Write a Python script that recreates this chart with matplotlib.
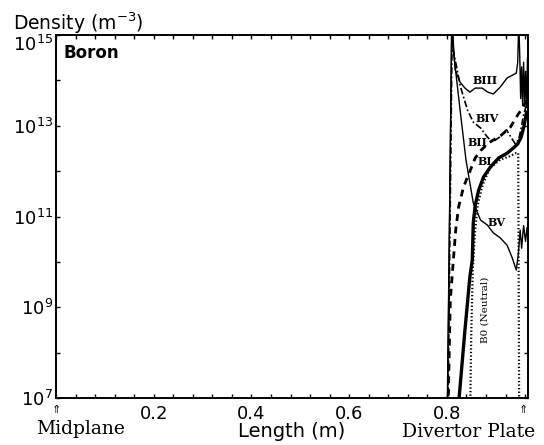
import matplotlib
matplotlib.use('Agg')
import matplotlib.pyplot as plt
from matplotlib.ticker import MultipleLocator, FixedLocator, NullFormatter
import matplotlib.transforms as mtransforms
import numpy as np

# ── Global style ──
plt.rcParams.update({
    'font.family':      'DejaVu Sans',
    'xtick.direction':  'in',
    'ytick.direction':  'in',
    'xtick.top':        True,
    'ytick.right':      True,
    'axes.linewidth':   1.4,
})

# ── Data: boron charge-state densities along the field line ──
# (x in m, densities given as log10 of m^-3)
b3_x = [0.801, 0.810, 0.817, 0.827, 0.837, 0.847, 0.858, 0.872, 0.884, 0.895, 0.909,
        0.923, 0.935, 0.942, 0.945, 0.947, 0.949, 0.951, 0.953, 0.955, 0.957, 0.959,
        0.961, 0.963, 0.965]
b3_log = [6.5, 15.3, 14.23, 13.96, 13.83, 13.74, 13.83, 13.83, 13.74, 13.70, 13.85,
          14.05, 14.12, 14.16, 14.4, 15.3, 14.6, 13.6, 14.3, 13.45, 14.4, 13.5,
          14.2, 13.4, 14.5]

b4_x = [0.802, 0.811, 0.813, 0.828, 0.842, 0.854, 0.869, 0.883, 0.893, 0.908, 0.922,
        0.931, 0.940, 0.947, 0.952, 0.957, 0.963]
b4_log = [6.5, 15.3, 14.67, 13.85, 13.35, 13.08, 12.95, 12.75, 12.64, 12.75, 12.91,
          12.75, 12.60, 12.70, 12.95, 13.24, 13.46]

b2_x = [0.802, 0.807, 0.818, 0.824, 0.834, 0.848, 0.858, 0.869, 0.885, 0.910, 0.930,
        0.945, 0.955, 0.963]
b2_log = [6.5, 9.16, 10.70, 11.21, 11.65, 12.02, 12.29, 12.45, 12.62, 12.78, 12.97,
          13.24, 13.39, 13.57]

b1_x = [0.824, 0.825, 0.837, 0.847, 0.852, 0.854, 0.858, 0.865, 0.875, 0.889, 0.906,
        0.924, 0.936, 0.945, 0.952, 0.958, 0.963]
b1_log = [6.5, 7.0, 8.5, 9.67, 10.04, 10.86, 11.25, 11.58, 11.87, 12.09, 12.29,
          12.40, 12.51, 12.60, 12.75, 13.0, 13.3]

b5_x = [0.8005, 0.810, 0.813, 0.827, 0.839, 0.854, 0.869, 0.883, 0.895, 0.909, 0.923,
        0.933, 0.942, 0.946, 0.950, 0.953, 0.957, 0.961, 0.964]
b5_log = [6.5, 15.3, 14.67, 13.35, 12.25, 11.30, 10.92, 10.81, 10.64, 10.53, 10.37,
          10.11, 9.82, 10.15, 10.70, 10.30, 10.80, 10.45, 10.75]

b0_x = [0.846, 0.848, 0.850, 0.853, 0.857, 0.863, 0.873, 0.888, 0.909, 0.929, 0.942,
        0.946, 0.948]
b0_log = [6.5, 7.0, 8.5, 9.82, 10.59, 11.25, 11.69, 12.07, 12.25, 12.33, 12.40,
          12.40, 6.5]

xtick_vals = [0.2, 0.4, 0.6, 0.8]
x_max = 0.966
plate_x = 0.957

# ════════════════════════════════════════════════════════════
fig = plt.figure(figsize=(5.44, 4.45), dpi=100)
fig.patch.set_facecolor('white')
ax = fig.add_axes([56/544, 1 - 398/445, 472/544, 363/445])

k = 'black'
ax.plot(b3_x, np.power(10.0, b3_log), color=k, lw=1.0, zorder=3)
ax.plot(b4_x, np.power(10.0, b4_log), color=k, lw=1.2, ls=(0, (4, 1.5, 1, 1.5)), zorder=3)
ax.plot(b2_x, np.power(10.0, b2_log), color=k, lw=2.0, ls=(0, (2.5, 2)), zorder=3)
ax.plot(b1_x, np.power(10.0, b1_log), color=k, lw=2.4, zorder=3)
ax.plot(b5_x, np.power(10.0, b5_log), color=k, lw=1.0, zorder=3)
ax.plot(b0_x, np.power(10.0, b0_log), color=k, lw=1.6, ls=(0, (0.6, 1.0)), zorder=3)

ax.set_yscale('log')
ax.set_xlim(0, x_max)
ax.set_ylim(1e7, 1e15)

# y ticks: labels every two decades, marks every decade
ax.yaxis.set_major_locator(FixedLocator([1e7, 1e9, 1e11, 1e13, 1e15]))
ax.yaxis.set_minor_locator(FixedLocator([1e8, 1e10, 1e12, 1e14]))
ax.yaxis.set_minor_formatter(NullFormatter())
ax.xaxis.set_major_locator(FixedLocator(xtick_vals))
ax.xaxis.set_minor_locator(MultipleLocator(0.04))
ax.tick_params(which='both', length=3, width=1)
ax.tick_params(axis='y', labelsize=13, pad=2)
ax.tick_params(axis='x', labelsize=13, pad=5)
# top label sits below the corner, as in the original
ax.yaxis.get_major_ticks()[-1].label1.set_verticalalignment('top')

# ── Text ──
fig.text(13/544, 1 - 30/445, 'Density (m$^{-3}$)', fontsize=13.5, va='baseline')
ax.text(0.015, 0.975, 'Boron', transform=ax.transAxes, fontsize=12,
        fontweight='bold', va='top', ha='left')

serif = 'DejaVu Serif'
lab = dict(family=serif, fontweight='bold', fontsize=8, ha='center', va='center',
           zorder=4)
ax.text(0.879, 10**13.99, 'BIII', **lab)
ax.text(0.883, 10**13.17, 'BIV', **lab)
ax.text(0.862, 10**12.64, 'BII', **lab)
ax.text(0.877, 10**12.22, 'BI', **lab)
ax.text(0.901, 10**10.86, 'BV', **lab)
ax.text(0.879, 10**8.94, 'B0 (Neutral)', family=serif, fontsize=7.5,
        rotation=90, ha='center', va='center')

trans = mtransforms.blended_transform_factory(ax.transData, ax.transAxes)
ax.text(0.0, -0.02, '⇑', transform=trans, fontsize=8, ha='center', va='top')
ax.text(plate_x, -0.02, '⇑', transform=trans, fontsize=8, ha='center', va='top')
ax.text(0.05, -0.06, 'Midplane', transform=trans, family=serif, fontsize=13.5,
        ha='center', va='top')
ax.text(0.845, -0.068, 'Divertor Plate', transform=trans, family=serif,
        fontsize=13.5, ha='center', va='top')
ax.set_xlabel('Length (m)', fontsize=14, labelpad=-1)

plt.savefig('out.png', dpi=100, facecolor='white')
plt.close()
